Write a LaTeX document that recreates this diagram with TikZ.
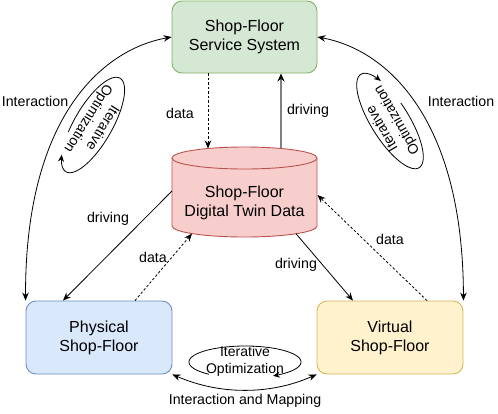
\documentclass[tikz,border=0pt]{standalone}
\usepackage{fontspec}
\setmainfont{Liberation Sans}
\usetikzlibrary{arrows.meta}
\definecolor{gfill}{HTML}{D5E8D4}\definecolor{gline}{HTML}{82B366}
\definecolor{rfill}{HTML}{F8CECC}\definecolor{rline}{HTML}{B85450}
\definecolor{bfill}{HTML}{DAE8FC}\definecolor{bline}{HTML}{6C8EBF}
\definecolor{yfill}{HTML}{FFF2CC}\definecolor{yline}{HTML}{D6B656}
\definecolor{arrgray}{HTML}{808080}
\tikzset{
  box/.style={rectangle, rounded corners=10pt, minimum width=145pt, minimum height=72pt,
    align=center, line width=0.9pt, inner sep=0pt, font=\fontsize{16}{19}\selectfont},
  lbl/.style={inner sep=0pt, font=\fontsize{14.2}{16}\selectfont},
  looptext/.style={inner sep=0pt, align=center, font=\fontsize{14}{17}\selectfont},
  conn/.style={line width=0.8pt, -{Stealth[length=8pt,width=6.5pt]}},
  biconn/.style={line width=0.8pt, {Stealth[length=8pt,width=6.5pt]}-{Stealth[length=8pt,width=6.5pt]}},
  dashconn/.style={conn, dash pattern=on 2.5pt off 2pt},
  loopline/.style={line width=0.8pt, -{Stealth[length=7pt,width=6pt]}}
}
\begin{document}
\begin{tikzpicture}[x=1pt,y=-1pt]
\useasboundingbox (0,0) rectangle (498,413);
% boxes
\node[box, fill=gfill, draw=gline] (sfs) at (244.5,37) {Shop-Floor\\Service System};
\node[box, fill=bfill, draw=bline, minimum width=146pt, minimum height=73pt] (phys) at (99,337.5) {Physical\\Shop-Floor};
\node[box, fill=yfill, draw=yline, minimum width=146pt, minimum height=73pt] (virt) at (390,337.5) {Virtual\\Shop-Floor};
% cylinder
\fill[rfill] (172,158) -- (172,226) arc[start angle=180, end angle=0, x radius=72.5, y radius=11] -- (317,158) -- cycle;
\draw[rline, line width=0.9pt] (172,158) -- (172,226) arc[start angle=180, end angle=0, x radius=72.5, y radius=11] -- (317,158);
\draw[rline, fill=rfill, line width=0.9pt] (244.5,158) ellipse [x radius=72.5, y radius=11];
\node[box, minimum width=0pt, minimum height=0pt] (dt) at (244.5,203) {Shop-Floor\\Digital Twin Data};
\coordinate (dtA) at (208,148.5);
\coordinate (dtB) at (281,148);
\coordinate (dtL) at (172,191);
\coordinate (dtC) at (192,233.6);
\coordinate (dtD) at (296,233.7);
\coordinate (dtR) at (317.5,195);
% straight connectors
\draw[dashconn] ([xshift=-36.5pt]sfs.south) -- (dtA);
\draw[line width=1.8pt, draw=arrgray, -{Stealth[length=8pt,width=7pt,color=black]}] (dtB) -- ([xshift=36.5pt]sfs.south);
\draw[conn] (dtL) -- ([xshift=-36pt]phys.north);
\draw[dashconn] ([xshift=36pt]phys.north) -- (dtC);
\draw[conn] (dtD) -- ([xshift=-37pt]virt.north);
\draw[dashconn] ([xshift=37pt]virt.north) -- (dtR);
% labels
\node[lbl] (l1) at (180,113) {data};
\node[lbl] (l2) at (308,111) {driving};
\node[lbl] (l3) at (108,219) {driving};
\node[lbl] (l4) at (153,257) {data};
\node[lbl] (l5) at (296,265) {driving};
\node[lbl] (l6) at (390,239) {data};
\node[lbl] (l7) at (35,101) {Interaction};
\node[lbl] (l8) at (461,101) {Interaction};
\node[lbl] (l9) at (245,401) {Interaction and Mapping};
% curved interaction connectors
\draw[biconn] (phys.north west) .. controls (25,120) and (100,50) .. (sfs.west);
\draw[biconn] (sfs.east) .. controls (388,50) and (463,120) .. (virt.north east);
\draw[biconn] (phys.south east) .. controls (220,395) and (270,395) .. (virt.south west);
% iterative optimization loops
\draw[loopline] plot[domain=-110:220, samples=90, smooth, variable=\t]
  ({93+27*cos(\t)+16.45*sin(\t)}, {125-46.76*cos(\t)+9.5*sin(\t)});
\node[looptext, rotate=238] (lo1) at (95,123) {Iterative\\Optimization};
\draw[loopline] plot[domain=-100:225, samples=90, smooth, variable=\t]
  ({390+29.15*cos(\t)-16.11*sin(\t)}, {121+46.64*cos(\t)+10.07*sin(\t)});
\node[looptext, rotate=120] (lo2) at (390,124) {Iterative\\Optimization};
\draw[loopline] plot[domain=130:420, samples=90, smooth, variable=\t]
  ({245+56*cos(\t)}, {362+16*sin(\t)});
\node[looptext] (lo3) at (245,361.5) {Iterative\\Optimization};
\end{tikzpicture}
\end{document}
